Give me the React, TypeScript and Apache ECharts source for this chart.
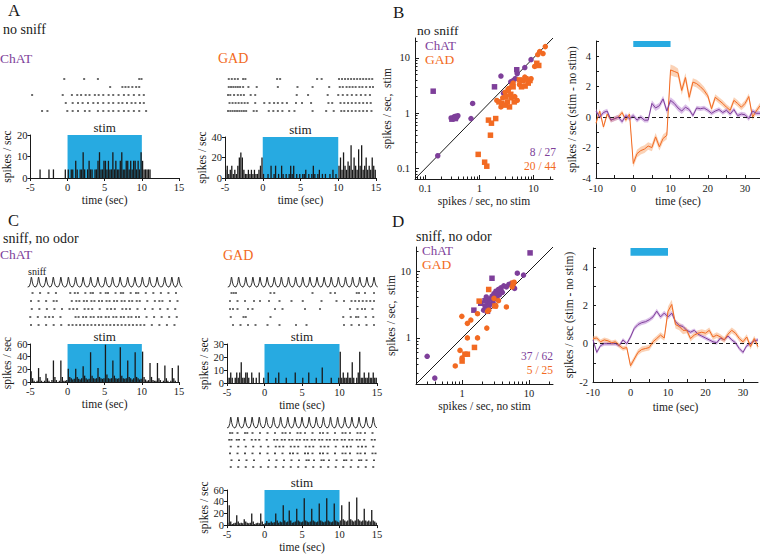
import React, { useEffect, useRef } from "react";
import * as echarts from "echarts";

const FONT = "Liberation Serif";
const INK = "#1a1a1a";
const PURPLE = "#7E3F9A";
const ORANGE = "#F26A22";
const BLUE = "#27AAE1";

// ---------- shared timing ----------
const STIM = [0, 10];
const HIST_T0 = -5;
const HIST_BIN = 0.2;
const histTickValues = [-5, 0, 5, 10, 15];
const courseTickValues = [-10, -5, 0, 5, 10, 15, 20, 25, 30];
const courseLabelValues = [-10, 0, 10, 20, 30];

// ---------- A: no sniff, PSTH (0.2 s bins from -5 s) ----------
const aChatHist = [
  0, 0, 0, 0, 0, 0, 4, 0, 0, 0, 0, 0, 4, 0, 0, 4, 0, 0, 0, 0, 0, 0, 0, 4, 0,
  4, 0, 4, 4, 0, 8, 4, 0, 4, 4, 12, 4, 0, 4, 8, 4, 4, 0, 4, 4, 8, 12, 4, 4, 8,
  8, 4, 8, 4, 4, 12, 4, 8, 4, 4, 8, 12, 4, 4, 8, 8, 4, 8, 4, 8, 8, 4, 8, 4, 12,
  8, 4, 4, 4, 4, 4, 0, 0, 0, 0, 0, 0, 0, 0, 0, 0, 0, 0, 0, 0, 0, 0, 0, 0, 0,
];
const aGadHist = [
  8, 12, 4, 8, 12, 4, 8, 4, 12, 20, 25, 20, 8, 4, 4, 8, 4, 8, 4, 8, 4, 4, 8, 12, 20,
  4, 0, 0, 4, 0, 12, 0, 4, 12, 0, 4, 0, 12, 4, 0, 4, 0, 4, 12, 4, 12, 0, 4, 0, 4,
  0, 4, 4, 8, 0, 4, 0, 4, 12, 4, 0, 4, 8, 0, 4, 0, 4, 0, 0, 4, 0, 8, 0, 4, 0,
  12, 20, 8, 25, 12, 8, 16, 12, 32, 8, 20, 12, 8, 28, 12, 32, 8, 12, 20, 8, 12, 8, 20, 12, 8,
];
// spike times (s) per trial, top row first
const aChatRaster = [
  [0.0, 2.6, 4.4, 9.8, 10.1],
  [6.0, 7.6, 8.0, 8.4, 8.9, 9.4, 9.8],
  [-4.2, -0.2, 1.0, 1.7, 2.2, 2.8, 3.3, 4.0, 4.5, 5.1, 5.8, 6.4, 7.1, 7.8, 8.4, 9.1, 9.8, 10.4],
  [0.2, 1.1, 1.8, 2.4, 3.1, 3.8, 4.4, 5.1, 5.8, 6.4, 7.1, 7.6, 8.2, 8.8, 9.3, 9.9, 10.4],
  [-2.9, -2.2, 0.4, 1.1, 1.8, 2.7, 3.3, 4.4, 5.1, 5.8, 6.4, 7.1, 7.8, 8.4, 9.1, 9.8, 10.7],
];
const aGadRaster = [
  [-4.5, -4.1, -3.7, -3.3, -2.6, -2.3, 1.9, 2.3, 7.2, 7.8, 10.1, 10.5, 10.9, 11.3, 11.7, 12.1, 12.5, 12.9, 13.3, 13.7, 14.1, 14.5],
  [-4.5, -4.2, -3.9, -3.6, -3.3, -3.0, -2.6, -1.9, -0.8, 2.0, 4.6, 6.6, 8.8, 10.2, 10.6, 11.1, 11.5, 11.9, 12.3, 12.8, 13.2, 13.7, 14.2, 14.6],
  [-4.6, -4.3, -3.8, -3.3, -2.9, -2.5, -1.6, -1.0, 4.5, 6.0, 8.6, 10.0, 10.6, 11.2, 11.8, 12.4, 13.0, 13.6, 14.2],
  [-4.4, -4.0, -3.6, -3.2, -2.8, -2.4, -2.0, -1.0, 0.2, 0.9, 1.5, 2.0, 2.6, 3.2, 4.4, 5.2, 6.4, 8.7, 9.2, 10.3, 10.8, 11.3, 11.8, 12.3, 12.8, 13.3, 13.8, 14.3],
  [-4.6, -4.3, -4.0, -3.7, -3.4, -3.1, -2.8, -2.5, -2.2, -1.2, -0.8, 0.8, 1.4, 2.0, 2.6, 3.5, 4.2, 6.6, 8.4, 9.4, 10.4, 10.8, 11.3, 11.8, 12.3, 12.8, 13.3, 13.8, 14.4],
];

// ---------- C: sniff, no odor ----------
const cChatHist = [
  17, 6, 2, 0, 2, 22, 8, 2, 0, 2, 13, 6, 2, 0, 3, 34, 8, 3, 0, 2, 34, 8, 2, 2, 3,
  21, 8, 6, 4, 5, 21, 8, 5, 4, 6, 25, 10, 6, 4, 5, 47, 10, 6, 5, 6, 22, 8, 6, 5, 6,
  59, 12, 6, 5, 6, 34, 10, 6, 5, 6, 55, 10, 6, 5, 6, 34, 8, 6, 4, 6, 47, 8, 6, 4, 5,
  48, 8, 4, 2, 3, 30, 8, 3, 2, 2, 30, 6, 3, 0, 2, 26, 6, 2, 0, 2, 22, 6, 2, 0, 26,
];
const cGadHist = [
  4, 4, 8, 4, 0, 4, 8, 4, 8, 16, 4, 4, 8, 8, 4, 0, 8, 4, 0, 4, 0, 8, 0, 0, 4,
  0, 0, 8, 0, 0, 0, 0, 4, 0, 8, 0, 0, 0, 0, 4, 0, 0, 0, 0, 0, 8, 0, 0, 0, 0,
  4, 0, 0, 0, 8, 0, 0, 0, 0, 4, 0, 0, 0, 12, 0, 0, 0, 0, 0, 4, 0, 0, 0, 0, 4,
  24, 4, 8, 4, 4, 8, 4, 4, 16, 4, 0, 4, 8, 24, 4, 4, 8, 4, 4, 8, 4, 4, 8, 4, 4,
];
const cGad2Hist = [
  4, 34, 6, 2, 3, 4, 17, 6, 3, 4, 3, 10, 6, 4, 3, 4, 20, 6, 2, 3, 4, 3, 20, 6, 2,
  3, 7, 4, 4, 6, 4, 5, 20, 8, 4, 6, 5, 34, 8, 5, 6, 25, 8, 4, 5, 6, 28, 8, 6, 5,
  6, 46, 8, 6, 5, 6, 28, 8, 6, 5, 6, 37, 8, 6, 5, 6, 46, 8, 6, 5, 6, 37, 8, 6, 5,
  8, 34, 10, 8, 6, 8, 40, 10, 8, 6, 8, 47, 10, 8, 6, 8, 28, 8, 6, 8, 6, 26, 8, 6, 4,
];
const cChatRaster = [
  [-4.4, -3.4, -2.3, -1.3, 0.6, 1.2, 1.6, 2.6, 3.3, 3.6, 4.6, 5.3, 5.6, 6.6, 7.3, 7.6, 8.6, 9.3, 9.6, 10.6, 11.6, 12.6, 13.6, 14.6],
  [-4.6, -3.6, -2.6, -1.6, -1.2, 0.8, 1.4, 1.8, 2.4, 2.8, 3.4, 3.8, 4.4, 4.8, 5.4, 5.8, 6.4, 6.8, 7.4, 7.8, 8.4, 8.8, 9.4, 9.8, 10.8, 11.8, 12.4, 12.8, 13.8, 14.8],
  [-4.5, -3.5, -2.5, -1.5, -0.5, 0.5, 1.0, 1.5, 2.5, 3.0, 3.5, 4.5, 5.5, 6.0, 6.5, 7.5, 8.0, 8.5, 9.5, 10.5, 11.5, 12.5, 13.5, 14.5],
  [-4.7, -3.7, -2.7, -2.2, -1.7, -0.7, 1.3, 1.7, 2.3, 2.7, 3.3, 3.7, 4.3, 4.7, 5.3, 5.7, 6.3, 6.7, 7.3, 7.7, 8.3, 8.7, 9.3, 9.7, 10.7, 11.7, 12.7, 13.7, 14.7],
  [-4.6, -3.6, -2.6, -1.6, -0.6, 0.4, 0.9, 1.4, 1.9, 2.4, 2.9, 3.4, 3.9, 4.4, 4.9, 5.4, 5.9, 6.4, 6.9, 7.4, 7.9, 8.4, 8.9, 9.4, 9.9, 10.4, 11.4, 12.4, 13.4, 14.4],
];
const cGadRaster = [
  [-4.4, -4.1, -3.8, 0.8, 1.3, 6.4, 8.8, 9.4, 12.3, 12.6, 13.4, 14.6],
  [-4.6, -3.6, -2.6, -1.4, -0.6, 0.6, 2.0, 3.6, 5.1, 7.6, 9.6, 10.6, 11.6, 12.1, 12.6, 13.1, 13.6, 14.1, 14.6],
  [-4.6, -4.2, -3.6, -2.2, -1.6, 1.4, 2.4, 5.4, 7.4, 11.4, 12.4, 13.0, 13.4, 14.4],
  [-4.5, -2.8, -2.5, 0.8, 10.5, 11.5, 12.2, 12.5, 13.5, 14.5],
  [-4.2, -3.2, -2.2, -1.2, 0.4, 2.0, 4.2, 5.6, 10.6, 11.6, 12.6, 13.6, 14.6],
];
const cGad2Raster = [
  [-4.6, -4.3, -3.6, -2.6, -2.3, -1.6, -0.6, 0.4, 1.4, 2.4, 2.8, 3.4, 4.4, 4.8, 5.4, 6.4, 7.4, 7.8, 8.4, 9.4, 10.4, 10.8, 11.4, 12.4, 12.8, 13.4, 14.4],
  [-4.7, -4.4, -3.7, -3.4, -2.7, -1.7, -1.2, -0.7, 0.3, 1.3, 1.7, 2.3, 2.7, 3.3, 3.7, 4.3, 4.7, 5.3, 5.7, 6.3, 6.7, 7.3, 7.7, 8.3, 8.7, 9.3, 9.7, 10.3, 10.7, 11.3, 11.7, 12.3, 12.7, 13.3, 14.3, 14.7],
  [-4.5, -3.5, -2.5, -1.5, -0.5, 0.5, 1.5, 2.0, 2.5, 3.5, 4.0, 4.5, 5.5, 6.0, 6.5, 7.5, 8.0, 8.5, 9.5, 10.5, 11.0, 11.5, 12.5, 13.0, 13.5, 14.5],
  [-4.6, -3.6, -2.6, -1.6, -0.6, 0.4, 1.4, 2.4, 3.4, 3.8, 4.4, 5.4, 5.8, 6.4, 7.4, 7.8, 8.4, 9.4, 10.4, 10.8, 11.4, 12.4, 12.8, 13.4, 14.4, 14.8],
  [-4.4, -3.4, -2.4, -1.4, 0.6, 1.6, 2.6, 3.6, 4.6, 5.6, 5.9, 6.6, 7.6, 7.9, 8.6, 9.6, 10.6, 10.9, 11.6, 12.6, 12.9, 13.6, 14.6],
  [-4.5, -3.5, -2.5, -1.5, -0.5, 0.5, 1.5, 2.5, 3.5, 4.5, 5.5, 6.5, 7.5, 8.5, 9.5, 10.5, 11.5, 12.5, 13.5, 14.5],
];
// sniff peak times (s)
const cChatSniffPeaks = [-4.55, -3.6, -2.6, -1.65, -0.65, 0.35, 1.3, 2.3, 3.3, 4.25, 5.25, 6.2, 7.2, 8.2, 9.15, 10.15, 11.1, 12.1, 13.1, 14.05, 14.95];
const cGadSniffPeaks = [-4.4, -3.45, -2.5, -1.55, -0.6, 0.35, 1.3, 2.25, 3.2, 4.15, 5.1, 6.05, 7.0, 7.95, 8.9, 9.85, 10.8, 11.75, 12.7, 13.65, 14.6];
const cGad2SniffPeaks = [-4.5, -3.55, -2.6, -1.65, -0.7, 0.25, 1.2, 2.15, 3.1, 4.05, 5.0, 5.95, 6.9, 7.85, 8.8, 9.75, 10.7, 11.65, 12.6, 13.55, 14.5];
// one sniff cycle outline: [time offset from peak, fraction of amplitude]
const sniffGlyph = [[-0.5, 0], [-0.28, 0.06], [-0.12, 0.42], [-0.03, 0.93], [0, 1], [0.03, 0.94], [0.12, 0.5], [0.26, 0.14], [0.5, 0]];

// ---------- B / D scatter (spikes/s) ----------
const bChatCircle = [[0.17, 0.17], [0.30, 0.82], [0.32, 0.80], [0.34, 0.86], [0.36, 0.88], [0.38, 0.84], [0.40, 0.90], [0.70, 0.80], [0.75, 1.5], [2.5, 4.7], [2.8, 2.3], [3.8, 3.7], [4.2, 3.9], [4.6, 4.2], [5.0, 5.2], [6.9, 6.7], [9.0, 9.3]];
const bChatSquare = [[0.14, 2.5], [0.31, 0.78], [0.36, 0.8], [1.9, 3.0], [4.9, 6.1]];
const bGadCircle = [[2.1, 1.7], [2.7, 1.9], [3.0, 2.4], [3.5, 2.8], [4.0, 3.2], [4.5, 2.0], [5.0, 1.7], [3.9, 1.9], [2.5, 1.3], [6.9, 4.5], [7.8, 4.0], [9.0, 4.2], [10.5, 7.0], [12.0, 11.5], [13.0, 13.0], [16.5, 16.0], [15.0, 12.0], [4.2, 3.5], [5.5, 3.3]];
const bGadSquare = [[0.95, 0.18], [1.25, 0.13], [1.37, 0.11], [1.47, 0.75], [1.67, 0.66], [1.6, 0.4], [2.0, 0.8], [2.3, 1.6], [2.6, 1.5], [3.0, 1.4], [3.3, 1.6], [3.6, 1.3], [3.1, 2.0], [3.8, 2.2], [4.4, 1.6], [5.5, 4.0], [6.4, 3.9], [7.2, 4.2], [8.0, 3.5], [6.0, 3.0], [7.0, 3.1], [8.6, 3.9], [11.5, 8.0], [12.5, 7.3], [3.4, 2.6], [4.2, 3.0]];
const dChatCircle = [[0.30, 0.53], [0.39, 0.25], [6.7, 9.3], [8.3, 8.7], [6.1, 5.5], [2.2, 3.0], [2.4, 3.4], [2.6, 3.8], [2.8, 4.2], [3.0, 4.6], [3.2, 5.0], [3.5, 5.3], [3.8, 5.6], [4.2, 6.0], [4.6, 5.8], [5.0, 6.3], [2.1, 2.6], [2.5, 2.8], [3.3, 4.0], [2.9, 3.4], [3.6, 4.4], [4.0, 4.8], [2.3, 4.1], [5.4, 6.5]];
const dChatSquare = [[2.8, 7.8], [10.4, 18.7], [1.5, 2.6], [1.9, 3.3], [2.2, 3.6], [2.6, 3.2], [3.0, 3.9], [3.4, 4.5], [3.8, 4.9], [2.4, 2.5]];
const dGadCircle = [[0.79, 0.38], [0.93, 0.65], [1.0, 0.5], [0.99, 2.1], [1.2, 1.65], [1.35, 1.85], [1.2, 1.0], [1.7, 1.0], [1.7, 2.3], [2.34, 1.4], [2.5, 2.6], [3.0, 3.9], [3.2, 3.0], [3.5, 3.6], [4.6, 2.9], [5.6, 5.8], [6.0, 6.8], [2.4, 2.5]];
const dGadSquare = [[1.0, 0.45], [1.1, 0.57], [1.2, 0.57], [1.53, 0.72], [1.8, 3.55], [2.5, 5.3], [5.8, 6.6], [3.1, 3.0]];
const bLogRange = [-1.19, 1.36];
const dLogRange = [-0.69, 1.36];
const bMajor = [0.1, 1, 10];
const bMinor = [0.07, 0.08, 0.09, 0.2, 0.3, 0.4, 0.5, 0.6, 0.7, 0.8, 0.9, 2, 3, 4, 5, 6, 7, 8, 9, 20];
const dMajor = [1, 10];
const dMinor = [0.3, 0.4, 0.5, 0.6, 0.7, 0.8, 0.9, 2, 3, 4, 5, 6, 7, 8, 9, 20];

// ---------- B / D time courses (stim - no stim) ----------
const courseTimes = [-10, -9, -8, -7, -6, -5, -4, -3, -2, -1, 0, 1, 2, 3, 4, 5, 6, 7, 8, 9, 10, 11, 12, 13, 14, 15, 16, 17, 18, 19, 20, 21, 22, 23, 24, 25, 26, 27, 28, 29, 30, 31, 32, 33, 34];
const bOrangeMean = [-0.4, 0.4, -0.65, 0.2, -0.2, -0.1, 0, 0.3, -0.2, 0.2, -3.05, -2.4, -2.2, -2.1, -1.9, -2.0, -1.3, -1.95, -1.4, -1.2, 3.1, 3.0, 2.9, 1.75, 2.6, 1.3, 2.3, 2.2, 2.0, 1.75, 1.4, 0.55, 1.3, 1.1, 0.9, 0.65, 0.45, 1.1, 0.9, 0.65, 0.9, 1.35, 0.0, 0.4, 0.75];
const bOrangeSem = [0.15, 0.15, 0.15, 0.15, 0.15, 0.15, 0.15, 0.15, 0.15, 0.15, 0.25, 0.25, 0.25, 0.25, 0.25, 0.25, 0.25, 0.25, 0.25, 0.25, 0.35, 0.35, 0.3, 0.3, 0.3, 0.3, 0.25, 0.25, 0.25, 0.25, 0.2, 0.2, 0.2, 0.2, 0.2, 0.2, 0.2, 0.2, 0.2, 0.2, 0.2, 0.2, 0.2, 0.2, 0.2];
const bPurpleMean = [0.4, 0, 0.3, 0.4, -0.2, -0.1, 0, -0.3, 0.1, -0.1, 0.1, -0.2, 0, -0.2, -0.2, 0.9, 0.6, 0.75, 1.2, 0.4, 1.1, 0.9, 0.6, 0.4, 0.65, 0.5, 0.1, 0.6, 0.55, 0.6, 0.45, 0.25, 0.4, 0.5, 0.3, 0.45, 0.2, 0.5, 0.1, 0.2, 0.15, -0.1, 0.4, 0.25, 0.25];
const bPurpleSem = [0.15, 0.15, 0.15, 0.15, 0.15, 0.15, 0.15, 0.15, 0.15, 0.15, 0.15, 0.15, 0.15, 0.15, 0.15, 0.2, 0.2, 0.2, 0.2, 0.2, 0.2, 0.2, 0.2, 0.2, 0.2, 0.15, 0.15, 0.15, 0.15, 0.15, 0.15, 0.15, 0.15, 0.15, 0.15, 0.15, 0.15, 0.15, 0.15, 0.15, 0.15, 0.15, 0.15, 0.15, 0.15];
const dOrangeMean = [0.27, 0.3, 0.1, 0.2, 0.15, 0.05, 0.1, -0.1, -0.25, -0.2, -1.15, -0.8, -0.45, -0.3, -0.25, -0.2, 0.1, 0.27, 0.45, 0.3, 1.7, 2.05, 1.0, 0.9, 0.7, 0.7, 0.27, 0.45, 0.55, 0.6, 0.55, 0.7, 0.35, 0.45, 0.35, 0.2, 0.5, 0.7, 0.55, 0.27, 0.1, 0.35, -0.15, 0.27, -0.15];
const dOrangeSem = [0.12, 0.12, 0.12, 0.12, 0.12, 0.12, 0.12, 0.12, 0.12, 0.12, 0.15, 0.15, 0.15, 0.15, 0.15, 0.15, 0.15, 0.15, 0.15, 0.15, 0.25, 0.25, 0.2, 0.2, 0.2, 0.15, 0.15, 0.15, 0.15, 0.15, 0.15, 0.15, 0.15, 0.15, 0.15, 0.15, 0.15, 0.15, 0.15, 0.15, 0.15, 0.15, 0.15, 0.15, 0.15];
const dPurpleMean = [0.2, -0.45, -0.1, 0, 0, 0, 0, -0.1, 0.2, 0, 0.35, 0.8, 1.0, 1.1, 1.15, 1.25, 1.4, 1.7, 1.4, 1.6, 1.4, 1.6, 1.15, 0.95, 0.9, 0.7, 0.6, 0.7, 0.5, 0.4, 0.3, 0.2, 0.1, 0.05, 0.3, 0.2, 0.4, 0.2, 0.05, -0.25, -0.45, -0.1, 0, 0.15, 0.2];
const dPurpleSem = [0.1, 0.1, 0.1, 0.1, 0.1, 0.1, 0.1, 0.1, 0.1, 0.1, 0.12, 0.12, 0.12, 0.12, 0.12, 0.12, 0.12, 0.12, 0.12, 0.12, 0.12, 0.12, 0.12, 0.12, 0.12, 0.1, 0.1, 0.1, 0.1, 0.1, 0.1, 0.1, 0.1, 0.1, 0.1, 0.1, 0.1, 0.1, 0.1, 0.1, 0.1, 0.1, 0.1, 0.1, 0.1];
const stimBarSpan = { b: [4.6, 5.0], d: [4.6, 5.0] };

// ---------- text annotations ----------
const annotations = [
  { text: "A", x: 8, y: 10, size: 17, color: INK },
  { text: "no sniff", x: 3, y: 29, size: 14, color: INK },
  { text: "ChAT", x: 0, y: 58, size: 13.5, color: PURPLE },
  { text: "GAD", x: 218, y: 58, size: 14, color: ORANGE },
  { text: "B", x: 393, y: 12, size: 17, color: INK },
  { text: "no sniff", x: 417, y: 30, size: 13.5, color: INK },
  { text: "ChAT", x: 425, y: 45, size: 13, color: PURPLE },
  { text: "GAD", x: 425, y: 59, size: 13.5, color: ORANGE },
  { text: "8 / 27", x: 556, y: 152, size: 11.5, color: PURPLE, align: "right" },
  { text: "20 / 44", x: 556, y: 166, size: 11.5, color: ORANGE, align: "right" },
  { text: "C", x: 8, y: 220.5, size: 16.5, color: INK },
  { text: "sniff, no odor", x: 3, y: 238, size: 14, color: INK },
  { text: "ChAT", x: 0, y: 254, size: 13.5, color: PURPLE },
  { text: "GAD", x: 223, y: 255, size: 14, color: ORANGE },
  { text: "sniff", x: 28, y: 271, size: 10, color: INK },
  { text: "D", x: 392, y: 221, size: 17, color: INK },
  { text: "sniff, no odor", x: 416, y: 236, size: 14, color: INK },
  { text: "ChAT", x: 422, y: 250.5, size: 13, color: PURPLE },
  { text: "GAD", x: 422, y: 264.5, size: 13.5, color: ORANGE },
  { text: "37 / 62", x: 553, y: 355.5, size: 11.5, color: PURPLE, align: "right" },
  { text: "5 / 25", x: 553, y: 369.5, size: 11.5, color: ORANGE, align: "right" },
];

function buildOption() {
  const grids = [
    { left: 26, top: 75, width: 153, height: 40 },
    { left: 26, top: 135, width: 153, height: 43 },
    { left: 225, top: 75, width: 151, height: 40 },
    { left: 225, top: 137, width: 151, height: 41 },
    { left: 415, top: 38, width: 138, height: 141 },
    { left: 596, top: 41, width: 164, height: 137 },
    { left: 28, top: 273, width: 151, height: 56 },
    { left: 28, top: 344, width: 151, height: 38 },
    { left: 227, top: 273, width: 150, height: 56 },
    { left: 227, top: 344, width: 150, height: 39 },
    { left: 227, top: 416, width: 150, height: 54.4 },
    { left: 227, top: 490, width: 150, height: 40 },
    { left: 416, top: 247, width: 137, height: 137 },
    { left: 593, top: 248, width: 165, height: 134 },
  ].map((g) => ({ ...g, containLabel: false, show: false }));

  const xAxes: any[] = [];
  const yAxes: any[] = [];
  const series: any[] = [];
  const addX = (o: any) => { xAxes.push(o); return xAxes.length - 1; };
  const addY = (o: any) => { yAxes.push(o); return yAxes.length - 1; };

  const line = { show: true, onZero: false, lineStyle: { color: INK, width: 1 } };
  const noLine = { show: false, onZero: false };
  const label = (margin: number) => ({ color: INK, fontFamily: FONT, fontSize: 10.5, margin });
  const nameStyle = { color: INK, fontFamily: FONT, fontSize: 11.5 };

  const stimRender = (params: any, api: any) => {
    const p0 = api.coord([api.value(0), api.value(2)]);
    const p1 = api.coord([api.value(1), 0]);
    return {
      type: "group",
      children: [
        { type: "rect", shape: { x: p0[0], y: p0[1], width: p1[0] - p0[0], height: p1[1] - p0[1] }, style: { fill: BLUE } },
        { type: "text", x: (p0[0] + p1[0]) / 2, y: p0[1] - 1, style: { text: "stim", fill: INK, font: `13px ${FONT}`, align: "center", verticalAlign: "bottom" } },
      ],
    };
  };

  function histPanel(gi: number, values: number[], yMax: number, yInt: number, xGap: number, yGap: number) {
    const xi = addX({
      type: "value", gridIndex: gi, min: -5, max: 15, position: "bottom",
      axisLine: line, splitLine: { show: false },
      axisTick: { show: true, inside: false, length: 3, customValues: histTickValues, lineStyle: { color: INK } },
      axisLabel: { ...label(4), customValues: histTickValues },
      name: "time (sec)", nameLocation: "middle", nameGap: xGap, nameTextStyle: nameStyle,
    });
    const yi = addY({
      type: "value", gridIndex: gi, min: 0, max: yMax, interval: yInt, position: "left",
      axisLine: line, splitLine: { show: false },
      axisTick: { show: true, inside: false, length: 3, lineStyle: { color: INK } },
      axisLabel: label(3),
      name: "spikes / sec", nameLocation: "middle", nameGap: yGap, nameTextStyle: nameStyle,
    });
    series.push({
      type: "custom", xAxisIndex: xi, yAxisIndex: yi, silent: true, z: 1,
      data: [[STIM[0], STIM[1], yMax]], encode: { x: [0, 1], y: 2 }, renderItem: stimRender,
    });
    series.push({
      type: "bar", xAxisIndex: xi, yAxisIndex: yi, silent: true, z: 3, barWidth: 1.3,
      itemStyle: { color: INK },
      data: values.map((v, i) => [HIST_T0 + HIST_BIN * (i + 0.5), v]),
    });
  }

  function rasterPanel(gi: number, rows: number[][], yMax: number, sniff?: { peaks: number[]; base: number; amp: number }) {
    const xi = addX({ type: "value", gridIndex: gi, min: -5, max: 15, show: false, axisLine: noLine });
    const yi = addY({ type: "value", gridIndex: gi, min: 0.5, max: yMax, show: false, axisLine: noLine });
    series.push({
      type: "scatter", xAxisIndex: xi, yAxisIndex: yi, silent: true,
      symbol: "rect", symbolSize: [2, 1.6], itemStyle: { color: INK },
      data: rows.flatMap((r, k) => r.map((t) => [t, rows.length - k])),
    });
    if (sniff) {
      series.push({
        type: "custom", xAxisIndex: xi, yAxisIndex: yi, silent: true,
        data: sniff.peaks.map((p) => [p, sniff.base]),
        renderItem: (params: any, api: any) => {
          const p = api.value(0);
          const pts = sniffGlyph.map(([dt, f]) => api.coord([p + dt, sniff.base + sniff.amp * f]));
          return { type: "polyline", shape: { points: pts }, style: { stroke: INK, fill: "none", lineWidth: 0.9 } };
        },
      });
    }
  }

  const fmtLog = (v: number) => {
    const n = Math.pow(10, v);
    return n < 1 ? n.toFixed(1) : String(Math.round(n));
  };

  function logPanel(gi: number, range: number[], major: number[], minor: number[], sets: any[], xGap: number, yGap: number) {
    const lg = (v: number) => Math.log10(v);
    const base = { type: "value", gridIndex: gi, min: range[0], max: range[1], splitLine: { show: false } };
    const xi = addX({
      ...base, position: "bottom", axisLine: line,
      axisTick: { show: true, inside: true, length: 4, customValues: major.map(lg), lineStyle: { color: INK } },
      axisLabel: { ...label(4), customValues: major.map(lg), formatter: fmtLog },
      name: "spikes / sec, no stim", nameLocation: "middle", nameGap: xGap, nameTextStyle: nameStyle,
    });
    addX({
      ...base, position: "bottom", axisLine: noLine, axisLabel: { show: false },
      axisTick: { show: true, inside: true, length: 2.5, customValues: minor.map(lg), lineStyle: { color: INK } },
    });
    const yi = addY({
      ...base, position: "left", axisLine: line,
      axisTick: { show: true, inside: true, length: 4, customValues: major.map(lg), lineStyle: { color: INK } },
      axisLabel: { ...label(5), customValues: major.map(lg), formatter: fmtLog },
      name: "spikes / sec,  stim", nameLocation: "middle", nameGap: yGap, nameTextStyle: nameStyle,
    });
    addY({
      ...base, position: "left", axisLine: noLine, axisLabel: { show: false },
      axisTick: { show: true, inside: true, length: 2.5, customValues: minor.map(lg), lineStyle: { color: INK } },
    });
    series.push({
      type: "line", xAxisIndex: xi, yAxisIndex: yi, silent: true, z: 1, symbol: "none",
      lineStyle: { color: INK, width: 1 },
      data: [[range[0], range[0]], [range[1], range[1]]],
    });
    sets.forEach((s) => {
      series.push({
        type: "scatter", xAxisIndex: xi, yAxisIndex: yi, silent: true, z: 3,
        symbol: s.symbol, symbolSize: 5.5,
        itemStyle: { color: s.color, opacity: 1 },
        data: s.data.map(([x, y]: number[]) => [lg(x), lg(y)]),
      });
    });
  }

  function coursePanel(gi: number, yMin: number, yMax: number, traces: any[], bar: number[], xGap: number, yGap: number) {
    const xi = addX({
      type: "value", gridIndex: gi, min: -10, max: 34, position: "bottom",
      axisLine: line, splitLine: { show: false },
      axisTick: { show: true, inside: true, length: 3, customValues: courseTickValues, lineStyle: { color: INK } },
      axisLabel: { ...label(5), customValues: courseLabelValues },
      name: "time (sec)", nameLocation: "middle", nameGap: xGap, nameTextStyle: nameStyle,
    });
    const yi = addY({
      type: "value", gridIndex: gi, min: yMin, max: yMax, interval: 1, position: "left",
      axisLine: line, splitLine: { show: false },
      axisTick: { show: true, inside: true, length: 3, lineStyle: { color: INK } },
      axisLabel: { ...label(5), formatter: (v: number) => (Math.round(v) % 2 === 0 ? String(v) : "") },
      name: "spikes / sec (stim - no stim)", nameLocation: "middle", nameGap: yGap, nameTextStyle: nameStyle,
    });
    series.push({
      type: "custom", xAxisIndex: xi, yAxisIndex: yi, silent: true, z: 1,
      data: [[STIM[0], STIM[1], bar[0], bar[1]]], encode: { x: [0, 1], y: [2, 3] },
      renderItem: (params: any, api: any) => {
        const p0 = api.coord([api.value(0), api.value(3)]);
        const p1 = api.coord([api.value(1), api.value(2)]);
        return { type: "rect", shape: { x: p0[0], y: p0[1], width: p1[0] - p0[0], height: p1[1] - p0[1] }, style: { fill: BLUE } };
      },
    });
    traces.forEach((tr) => {
      series.push({
        type: "custom", xAxisIndex: xi, yAxisIndex: yi, silent: true, z: 2,
        data: courseTimes.map((t, i) => [t, tr.mean[i] - tr.sem[i], tr.mean[i] + tr.sem[i]]),
        encode: { x: 0, y: [1, 2] },
        renderItem: (params: any, api: any) => {
          if (params.dataIndex !== 0) return null;
          const upper = courseTimes.map((t, i) => api.coord([t, tr.mean[i] + tr.sem[i]]));
          const lower = courseTimes.map((t, i) => api.coord([t, tr.mean[i] - tr.sem[i]])).reverse();
          return { type: "polygon", shape: { points: [...upper, ...lower] }, style: { fill: tr.band, opacity: 0.5 } };
        },
      });
    });
    traces.forEach((tr, k) => {
      series.push({
        type: "line", xAxisIndex: xi, yAxisIndex: yi, silent: true, z: 4, symbol: "none", showSymbol: false,
        lineStyle: { color: tr.color, width: 1 },
        data: courseTimes.map((t, i) => [t, tr.mean[i]]),
        markLine: k === 0 ? {
          silent: true, symbol: ["none", "none"], label: { show: false }, z: 3,
          lineStyle: { color: INK, type: [4, 3], width: 1 },
          data: [{ yAxis: 0 }],
        } : undefined,
      });
    });
  }

  rasterPanel(0, aChatRaster, 5.5);
  histPanel(1, aChatHist, 20, 10, 14, 8);
  rasterPanel(2, aGadRaster, 5.5);
  histPanel(3, aGadHist, 40, 20, 14, 14);
  logPanel(4, bLogRange, bMajor, bMinor, [
    { data: bChatCircle, symbol: "circle", color: PURPLE },
    { data: bChatSquare, symbol: "rect", color: PURPLE },
    { data: bGadCircle, symbol: "circle", color: ORANGE },
    { data: bGadSquare, symbol: "rect", color: ORANGE },
  ], 15, 14);
  coursePanel(5, -4, 5, [
    { mean: bOrangeMean, sem: bOrangeSem, color: ORANGE, band: "#F7A56E" },
    { mean: bPurpleMean, sem: bPurpleSem, color: PURPLE, band: "#B77FD1" },
  ], stimBarSpan.b, 16, 14);
  rasterPanel(6, cChatRaster, 7.5, { peaks: cChatSniffPeaks, base: 5.75, amp: 1.25 });
  histPanel(7, cChatHist, 60, 20, 14, 12);
  rasterPanel(8, cGadRaster, 7.5, { peaks: cGadSniffPeaks, base: 5.75, amp: 1.25 });
  histPanel(9, cGadHist, 30, 10, 14, 14);
  rasterPanel(10, cGad2Raster, 8.5, { peaks: cGad2SniffPeaks, base: 6.75, amp: 1.6 });
  histPanel(11, cGad2Hist, 60, 20, 11, 14);
  logPanel(12, dLogRange, dMajor, dMinor, [
    { data: dChatCircle, symbol: "circle", color: PURPLE },
    { data: dChatSquare, symbol: "rect", color: PURPLE },
    { data: dGadCircle, symbol: "circle", color: ORANGE },
    { data: dGadSquare, symbol: "rect", color: ORANGE },
  ], 16, 14);
  coursePanel(13, -2, 5, [
    { mean: dPurpleMean, sem: dPurpleSem, color: PURPLE, band: "#B77FD1" },
    { mean: dOrangeMean, sem: dOrangeSem, color: ORANGE, band: "#F7A56E" },
  ], stimBarSpan.d, 19, 13);

  const graphic = annotations.map((a) => ({
    type: "text", x: a.x, y: a.y, silent: true,
    style: { text: a.text, fill: a.color, font: `${a.size}px ${FONT}`, align: a.align || "left", verticalAlign: "middle" },
  }));

  return {
    animation: false,
    backgroundColor: "#ffffff",
    textStyle: { fontFamily: FONT, color: INK },
    grid: grids,
    xAxis: xAxes,
    yAxis: yAxes,
    series,
    graphic,
  };
}

export default function App() {
  const ref = useRef<HTMLDivElement>(null);
  useEffect(() => {
    if (!ref.current) return;
    const chart = echarts.init(ref.current, undefined, { renderer: "svg" });
    chart.setOption(buildOption() as any);
    return () => chart.dispose();
  }, []);
  return <div ref={ref} style={{ position: "absolute", left: 0, top: 0, width: 760, height: 554, background: "#fff" }} />;
}
